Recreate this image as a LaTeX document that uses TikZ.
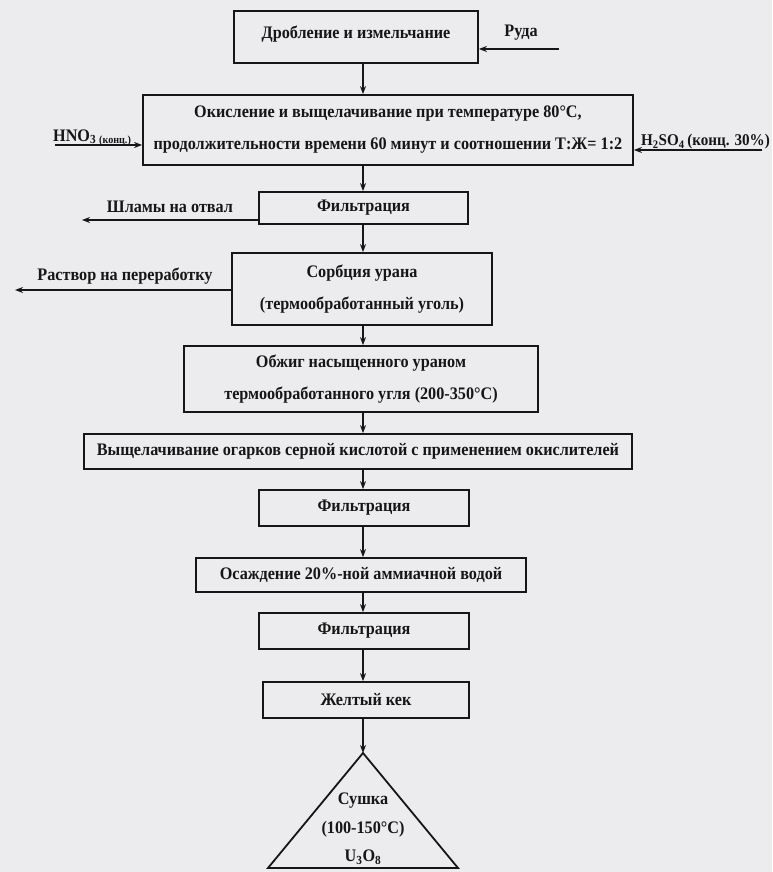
\documentclass[tikz,border=0pt]{standalone}
\usepackage{fontspec}
\setmainfont[FakeStretch=0.92]{Liberation Serif}
\usetikzlibrary{positioning,arrows.meta,calc}
\definecolor{Paper}{HTML}{ECECEF}
\definecolor{Ink}{HTML}{161616}

\begin{document}
\begin{tikzpicture}[x=1pt, y=-1pt, every node/.style={font=\bfseries\fontsize{17.6}{32}\selectfont, text=Ink}]
  \tikzstyle{box}=[draw=Ink, line width=1.8pt, inner sep=0pt, align=center]
  \tikzstyle{arrow}=[-{Stealth[length=8pt, width=6pt]}, line width=1.4pt, color=Ink]
  \tikzstyle{lbl}=[inner sep=0pt]

  \fill[Paper] (0,0) rectangle (772,872);
  \useasboundingbox (0,0) rectangle (772,872);
  \coordinate (spine) at (363,0);

  % main chain
  \node[box, minimum width=244pt, minimum height=52pt] (crush) at (356,37) {Дробление и измельчание\\[-22pt]};
  \node[box, minimum width=490pt, minimum height=70pt] (leach) at (388,130) {Окисление и выщелачивание при температуре 80°С,\\продолжительности времени 60 минут и соотношении Т:Ж= 1:2};
  \node[box, minimum width=209pt, minimum height=32pt] (filt1) at (363.5,208) {Фильтрация};
  \node[box, minimum width=260pt, minimum height=72pt] (sorb) at (362,289) {Сорбция урана\\(термообработанный уголь)};
  \node[box, minimum width=354pt, minimum height=66pt] (burn) at (361,379) {Обжиг насыщенного ураном\\термообработанного угля (200-350°С)};
  \node[box, minimum width=548pt, minimum height=35pt] (cinder) at (358,451.5) {Выщелачивание огарков серной кислотой с применением окислителей};
  \node[box, minimum width=210pt, minimum height=36pt] (filt2) at (364,508) {Фильтрация};
  \node[box, minimum width=330pt, minimum height=34pt] (precip) at (361,575) {Осаждение 20\%-ной аммиачной водой};
  \node[box, minimum width=210pt, minimum height=36pt] (filt3) at (364,631) {Фильтрация};
  \node[box, minimum width=206pt, minimum height=36pt] (cake) at (366,700) {Желтый кек};

  % drying triangle
  \coordinate (top) at (363,753);
  \coordinate (bl) at (268,868);
  \coordinate (br) at (458,868);
  \draw[line width=1.8pt, color=Ink] (top) -- (bl) -- (br) -- cycle;
  \node[align=center, font=\bfseries\fontsize{17.6}{28.5}\selectfont] (dry) at (363,829) {Сушка\\(100-150°С)\\U\textsubscript{3}O\textsubscript{8}};

  \foreach \a/\b in {crush/leach, leach/filt1, filt1/sorb, sorb/burn, burn/cinder, cinder/filt2, filt2/precip, precip/filt3, filt3/cake}
    \draw[arrow] (\a.south -| spine) -- (\b.north -| spine);
  \draw[arrow] (cake.south -| spine) -- (top);

  % inputs
  \coordinate (oreIn) at (559,49);
  \draw[arrow] (oreIn) -- (oreIn -| crush.east);
  \node[lbl] (ore) at (521,33) {Руда};
  \coordinate (hnoIn) at (55,145);
  \draw[arrow] (hnoIn) -- (hnoIn -| leach.west);
  \node[lbl, anchor=base west] (hno) at (53,141) {HNO\textsubscript{3}\,\raisebox{-2pt}{\fontsize{11}{11}\selectfont(конц.)}};
  \coordinate (acidIn) at (762,150);
  \draw[arrow] (acidIn) -- (acidIn -| leach.east);
  \node[lbl, anchor=base east, font=\bfseries\fontsize{16.4}{20}\selectfont] (acid) at (770,146) {H\textsubscript{2}SO\textsubscript{4}\,(конц. 30\%)};

  % outputs
  \coordinate (slimeOut) at (82,220);
  \draw[arrow] (slimeOut -| filt1.west) -- (slimeOut);
  \node[lbl] (slime) at (170,207) {Шламы на отвал};
  \coordinate (solOut) at (15,290);
  \draw[arrow] (solOut -| sorb.west) -- (solOut);
  \node[lbl] (sol) at (125,276) {Раствор на переработку};
\end{tikzpicture}
\end{document}
